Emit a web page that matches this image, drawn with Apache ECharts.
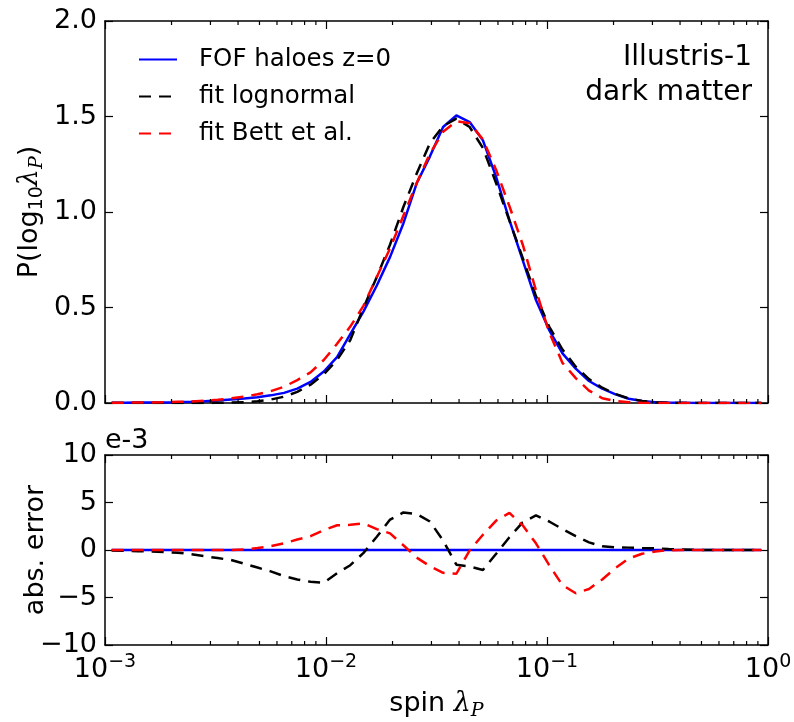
<!DOCTYPE html>
<html>
<head>
<meta charset="utf-8">
<script src="https://cdn.jsdelivr.net/npm/echarts@6/dist/echarts.min.js"></script>
<style>html,body{margin:0;padding:0;background:#fff;}#c{width:794px;height:722px;}</style>
</head>
<body>
<div id="c"></div>
<script>
// bin centres of spin lambda_P
const lambdaP = [0.001072,0.001230,0.001413,0.001622,0.001862,0.002138,0.002455,0.002818,0.003236,0.003715,
  0.004266,0.004898,0.005623,0.006457,0.007413,0.008511,0.009772,0.01122,0.01288,0.01479,
  0.01698,0.01950,0.02239,0.02570,0.02951,0.03388,0.03890,0.04467,0.05129,0.05888,
  0.06761,0.07762,0.08913,0.1023,0.1175,0.1349,0.1549,0.1778,0.2042,0.2344,
  0.2692,0.3090,0.3548,0.4074,0.4677,0.5370,0.6166,0.7079,0.8128,0.9333];
// P(log10 lambda_P)
const pHaloes = [0.001,0.001,0.002,0.002,0.003,0.004,0.006,0.009,0.013,0.018,
  0.023,0.030,0.040,0.053,0.075,0.110,0.165,0.240,0.360,0.480,
  0.615,0.765,0.940,1.149,1.290,1.445,1.506,1.471,1.375,1.183,
  0.957,0.748,0.539,0.382,0.260,0.180,0.115,0.075,0.045,0.022,
  0.010,0.004,0.002,0.001,0,0,0,0,0,0];
const pLognormal = [0,0,0,0,0,0,0,0,0.001,0.002,
  0.004,0.009,0.018,0.033,0.058,0.096,0.150,0.225,0.330,0.500,
  0.660,0.830,1.026,1.200,1.360,1.450,1.489,1.445,1.335,1.150,
  0.955,0.760,0.560,0.400,0.280,0.190,0.125,0.080,0.047,0.024,
  0.011,0.004,0.001,0,0,0,0,0,0,0];
const pBett = [0.001,0.002,0.002,0.003,0.004,0.006,0.008,0.012,0.017,0.024,
  0.033,0.046,0.062,0.085,0.120,0.160,0.225,0.310,0.400,0.510,
  0.660,0.810,0.980,1.150,1.305,1.420,1.475,1.465,1.380,1.220,
  1.030,0.830,0.590,0.370,0.210,0.130,0.065,0.025,0.010,0.004,
  0.001,0,0,0,0,0,0,0,0,0];
// absolute error, units of 1e-3
const errHaloes = [0,0,0,0,0,0,0,0,0,0,0,0,0,0,0,0,0,0,0,0,0,0,0,0,0,
  0,0,0,0,0,0,0,0,0,0,0,0,0,0,0,0,0,0,0,0,0,0,0,0,0];
const errLognormal = [-0.05,-0.08,-0.12,-0.17,-0.22,-0.28,-0.45,-0.65,-0.85,-1.05,
  -1.45,-1.85,-2.25,-2.75,-3.1,-3.35,-3.45,-2.45,-1.6,-0.3,
  1.4,3.2,3.95,3.8,3.0,1.0,-1.55,-1.75,-2.1,-0.4,
  1.35,2.9,3.65,3.0,2.2,1.45,0.8,0.4,0.28,0.25,
  0.2,0.18,0.1,0.05,0.02,0,0,0,0,0];
const errBett = [0,0,0,0,0,0,0,0,0,0,
  0.05,0.2,0.4,0.7,1.1,1.45,2.1,2.6,2.65,2.8,
  2.2,1.75,0.5,-0.8,-1.7,-2.4,-2.5,-0.05,1.6,3.1,
  3.9,2.6,0.7,-1.6,-3.7,-4.55,-4.1,-3.1,-1.9,-0.9,
  -0.4,-0.15,-0.02,0,0,0,0,0,0,0];
const minorTicks = [0.002,0.003,0.004,0.005,0.006,0.007,0.008,0.009,
  0.02,0.03,0.04,0.05,0.06,0.07,0.08,0.09,
  0.2,0.3,0.4,0.5,0.6,0.7,0.8,0.9];
const seriesNames = ['FOF haloes z=0','fit lognormal','fit Bett et al.'];
const annotation = ['Illustris-1','dark matter'];
const yTopTicks = [0, 2, 0.5];
const yBotTicks = [-10, 10, 5];

const FONT = 'DejaVu Sans';
const FS = 27;
const chart = echarts.init(document.getElementById('c'), null, {renderer:'canvas'});
const zip = (xs, ys) => xs.map((x,i)=>[x, ys[i]]);

function xAxisBase(grid, pos, labels){
  return {
    type:'log', logBase:10, min:0.001, max:1, gridIndex:grid, position:pos,
    axisLine:{show:true, onZero:false, lineStyle:{color:'#000', width:1.5}},
    axisTick:{show:true, inside:true, length:8, lineStyle:{color:'#000', width:1.2}},
    minorTick:{show:false},
    splitLine:{show:false},
    axisLabel:{show:labels, margin:8, color:'#000',
      formatter: v => { const e = Math.round(Math.log10(v)); return '{b|10}{s|' + (e<0 ? '\u2212'+(-e) : e) + '}'; },
      rich:{ b:{fontFamily:FONT, fontSize:FS, lineHeight:34, color:'#000'},
             s:{fontFamily:FONT, fontSize:19, lineHeight:22, verticalAlign:'top', color:'#000'} } }
  };
}
function yAxisBase(grid, pos, ticks, labels, fmt){
  return {
    type:'value', gridIndex:grid, position:pos, min:ticks[0], max:ticks[1], interval:ticks[2],
    axisLine:{show:true, onZero:false, lineStyle:{color:'#000', width:1.5}},
    axisTick:{show:true, inside:true, length:8, lineStyle:{color:'#000', width:1.2}},
    splitLine:{show:false},
    nameMoveOverlap:false,
    axisLabel:{show:labels, margin:8, color:'#000', fontFamily:FONT, fontSize:FS, formatter:fmt}
  };
}
const mathRich = {
  n:{fontFamily:FONT, fontSize:FS, lineHeight:34, color:'#000'},
  s:{fontFamily:FONT, fontSize:19, lineHeight:22, verticalAlign:'bottom', color:'#000'},
  m:{fontFamily:'DejaVu Serif', fontStyle:'italic', fontSize:FS, lineHeight:34, color:'#000'},
  ms:{fontFamily:'DejaVu Serif', fontStyle:'italic', fontSize:19, lineHeight:22, verticalAlign:'bottom', color:'#000'}
};

const xAxes = [xAxisBase(0,'bottom',false), xAxisBase(0,'top',false), xAxisBase(1,'bottom',true), xAxisBase(1,'top',false)];
xAxes[2].name = '{n|spin }{m|λ}{ms|P}';
xAxes[2].nameLocation = 'middle';
xAxes[2].nameGap = 42;
xAxes[2].nameTextStyle = {rich:mathRich};

const yAxes = [
  yAxisBase(0,'left',yTopTicks,true, v => v.toFixed(1)),
  yAxisBase(0,'right',yTopTicks,false),
  yAxisBase(1,'left',yBotTicks,true, v => v<0 ? '\u2212'+(-v) : String(v)),
  yAxisBase(1,'right',yBotTicks,false)
];
yAxes[0].name = '{n|P(log}{s|10}{m|λ}{ms|P}{n|)}';
yAxes[0].nameLocation = 'middle';
yAxes[0].nameGap = 58;
yAxes[0].nameTextStyle = {rich:mathRich};
yAxes[2].name = 'abs. error';
yAxes[2].nameLocation = 'middle';
yAxes[2].nameGap = 52;
yAxes[2].nameTextStyle = {fontFamily:FONT, fontSize:FS, lineHeight:34, color:'#000'};

const lineDefs = [
  {name:seriesNames[0], color:'#0000ff', type:'solid', z:3},
  {name:seriesNames[1], color:'#000000', type:[12,8], z:4},
  {name:seriesNames[2], color:'#ff0000', type:[12,8], z:5}
];
const topData = [pHaloes, pLognormal, pBett];
const botData = [errHaloes, errLognormal, errBett];
const series = [];
lineDefs.forEach((d,i)=>{
  series.push({type:'line', name:d.name, xAxisIndex:0, yAxisIndex:0, data:zip(lambdaP, topData[i]),
    symbol:'none', z:d.z, color:d.color, lineStyle:{color:d.color, width:2.5, type:d.type}, animation:false});
});
lineDefs.forEach((d,i)=>{
  series.push({type:'line', name:d.name, xAxisIndex:2, yAxisIndex:2, data:zip(lambdaP, botData[i]),
    symbol:'none', z:d.z, color:d.color, lineStyle:{color:d.color, width:2.5, type:d.type}, animation:false});
});
function minorSeries(xi, yi, y0, y1){
  return {type:'custom', xAxisIndex:xi, yAxisIndex:yi, silent:true, clip:false, z:10, animation:false,
    data: minorTicks.map(v=>[v, y0]),
    renderItem:(params, api)=>{
      const v = api.value(0);
      const b = api.coord([v, y0]);
      const t = api.coord([v, y1]);
      const st = {stroke:'#000', lineWidth:1.2};
      return {type:'group', children:[
        {type:'line', shape:{x1:b[0], y1:b[1], x2:b[0], y2:b[1]-4}, style:st},
        {type:'line', shape:{x1:t[0], y1:t[1], x2:t[0], y2:t[1]+4}, style:st}
      ]};
    }};
}
series.push(minorSeries(0,0,yTopTicks[0],yTopTicks[1]));
series.push(minorSeries(2,2,yBotTicks[0],yBotTicks[1]));

chart.setOption({
  animation:false,
  backgroundColor:'#fff',
  textStyle:{fontFamily:FONT},
  grid:[
    {left:105, top:21, width:663, height:382, containLabel:false, outerBoundsMode:'none'},
    {left:105, top:455, width:663, height:190, containLabel:false, outerBoundsMode:'none'}
  ],
  legend:{
    data:seriesNames, orient:'vertical', left:133, top:42,
    itemWidth:38, itemHeight:14, itemGap:12, selectedMode:false,
    itemStyle:{opacity:0, color:'rgba(0,0,0,0)', borderWidth:0},
    formatter: name => '{t|' + name + '}',
    textStyle:{fontFamily:FONT, fontSize:24.5, color:'#000', lineHeight:24,
      rich:{t:{fontFamily:FONT, fontSize:24.5, color:'#000', lineHeight:24, padding:[0,0,0,17]}}}
  },
  xAxis:xAxes,
  yAxis:yAxes,
  series:series,
  graphic:[
    {type:'text', right:42, top:40, style:{text:annotation[0], fontFamily:FONT, fontSize:28, lineHeight:35, fill:'#000'}},
    {type:'text', right:42, top:75, style:{text:annotation[1], fontFamily:FONT, fontSize:28, lineHeight:35, fill:'#000'}},
    {type:'text', left:105, top:427, style:{text:'e-3', fontFamily:FONT, fontSize:FS, fill:'#000'}}
  ]
});
</script>
</body>
</html>
